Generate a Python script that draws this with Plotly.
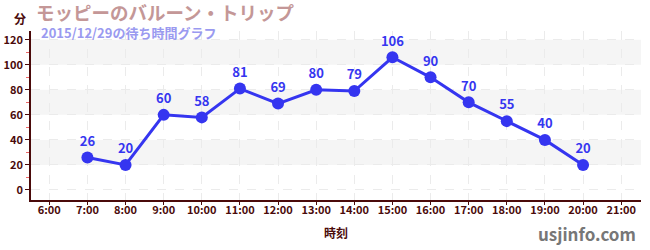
import plotly.graph_objects as go

hours = [7, 8, 9, 10, 11, 12, 13, 14, 15, 16, 17, 18, 19, 20]
waits = [26, 20, 60, 58, 81, 69, 80, 79, 106, 90, 70, 55, 40, 20]
tick_hours = list(range(6, 22))
tick_labels = [f"{h}:00" for h in tick_hours]
y_ticks = [0, 20, 40, 60, 80, 100, 120]
bands = [(20, 40), (60, 80), (100, 120)]

FONT = "Noto Sans CJK JP"
AX = "#4a0a0a"
BLUE = "#3535f0"

fig = go.Figure()
for lo, hi in bands:
    fig.add_shape(type="rect", xref="paper", yref="y", x0=0, x1=1, y0=lo, y1=hi,
                  fillcolor="#f5f5f5", line_width=0, layer="below")

fig.add_trace(go.Scatter(
    x=hours, y=waits, mode="lines+markers+text",
    line=dict(color=BLUE, width=3),
    marker=dict(color=BLUE, size=12),
    text=[str(v) for v in waits], textposition="top center",
    textfont=dict(family=FONT, size=13, color=BLUE, weight="bold"),
    cliponaxis=False, hoverinfo="skip", showlegend=False))

fig.update_layout(
    width=650, height=250,
    margin=dict(l=31, r=9, t=31, b=50),
    plot_bgcolor="white", paper_bgcolor="white",
    font=dict(family=FONT, color=AX),
    xaxis=dict(range=[5.52, 21.52], tickvals=tick_hours, ticktext=tick_labels,
               automargin=False,
               showline=True, linecolor=AX, linewidth=1.5,
               ticks="outside", ticklen=3, tickcolor=AX,
               ticklabelstandoff=-4,
               tickfont=dict(size=11, color=AX, weight="bold"),
               showgrid=True, gridcolor="#ebebeb", griddash="dash", gridwidth=1,
               zeroline=False,
               title=dict(text="時刻", font=dict(size=12, color=AX, weight="bold"), standoff=14)),
    yaxis=dict(range=[-8, 127], tickvals=y_ticks,
               automargin=False,
               showline=True, linecolor=AX, linewidth=1.5,
               ticks="outside", ticklen=4, tickcolor=AX,
               tickfont=dict(size=11, color=AX, weight="bold"),
               showgrid=True, gridcolor="#ebebeb", griddash="dash", gridwidth=1,
               zeroline=False,
               minor=dict(tickvals=[10, 30, 50, 70, 90, 110], ticks="outside", ticklen=3,
                          tickcolor="#ee6666", showgrid=False)),
)

fig.add_annotation(text="分", xref="paper", yref="paper", x=0, y=1, xshift=-11, yshift=13,
                   showarrow=False, xanchor="center", yanchor="middle",
                   font=dict(family=FONT, size=12, color=AX, weight="bold"))
fig.add_annotation(text="モッピーのバルーン・トリップ", xref="paper", yref="paper",
                   x=0, y=1, xshift=3, yshift=34, xanchor="left", yanchor="top", showarrow=False,
                   font=dict(family=FONT, size=18.5, color="#c49797", weight="bold"))
fig.add_annotation(text="2015/12/29の待ち時間グラフ", xref="paper", yref="paper",
                   x=0, y=1, xshift=8, yshift=10, xanchor="left", yanchor="top", showarrow=False,
                   font=dict(family=FONT, size=13, color="#9a9af0", weight="bold"))
fig.add_annotation(text="usjinfo.com", xref="paper", yref="paper",
                   x=1, y=0, xshift=-3, yshift=-48, xanchor="right", yanchor="bottom", showarrow=False,
                   font=dict(family=FONT, size=17, color="#777777", weight="bold"))

fig.write_html("out.html")
